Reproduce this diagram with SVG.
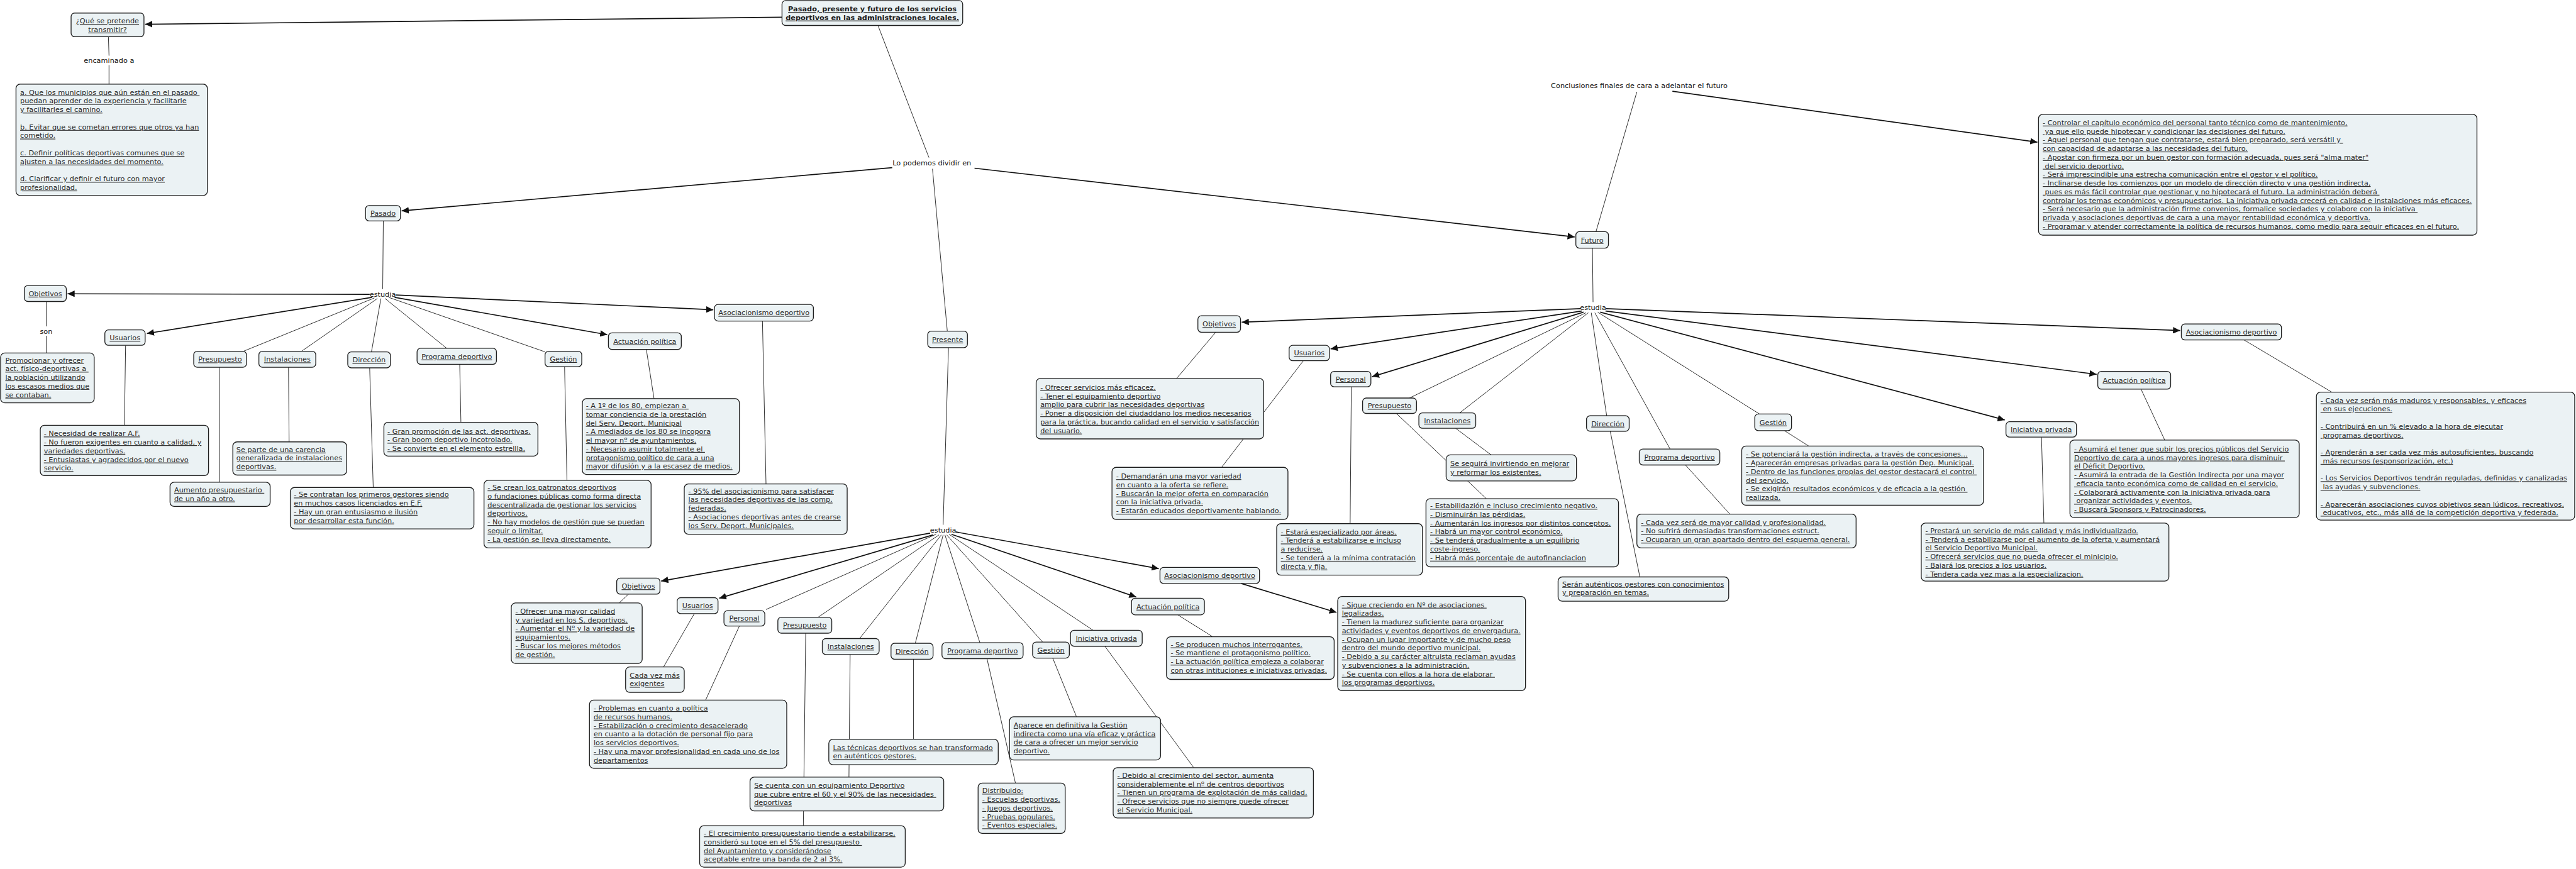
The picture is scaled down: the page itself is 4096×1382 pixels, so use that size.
<svg xmlns="http://www.w3.org/2000/svg" width="4096" height="1382" viewBox="0 0 4096 1382">
<style>
.bx{fill:#ebf2f4;stroke:#1e1e1e;stroke-width:1.4}
.t{font-family:"DejaVu Sans",Verdana,sans-serif;font-size:12px;fill:#2a2a2a;text-decoration:underline}
.m{text-anchor:middle}
.b{font-weight:bold;fill:#1a1a1a}
.l{font-family:"DejaVu Sans",Verdana,sans-serif;font-size:12px;fill:#111;text-anchor:middle}
.c{stroke:#222;stroke-width:1;fill:none}
.a{stroke:#111;stroke-width:1.8;fill:none;marker-end:url(#ah)}
</style>
<defs>
<marker id="ah" markerUnits="userSpaceOnUse" markerWidth="13" markerHeight="11" refX="12" refY="5.5" orient="auto"><path d="M0,0 L12,5.5 L0,11 z" fill="#111"/></marker>
</defs>
<rect width="4096" height="1382" fill="#fff"/>
<g transform="scale(0.942)">
<g id="connectors">
<line class="c" x1="183" y1="62" x2="184" y2="94"/>
<line class="c" x1="184" y1="110" x2="184" y2="142"/>
<line class="c" x1="1482" y1="43" x2="1568" y2="266"/>
<line class="c" x1="1574" y1="285" x2="1599" y2="559"/>
<line class="c" x1="2694" y1="391" x2="2763" y2="155"/>
<line class="c" x1="647" y1="373" x2="646" y2="488"/>
<line class="c" x1="78" y1="509" x2="78" y2="551"/>
<line class="c" x1="78" y1="567" x2="78" y2="596"/>
<line class="c" x1="212" y1="583" x2="210" y2="718"/>
<line class="c" x1="632" y1="503" x2="411" y2="593"/>
<line class="c" x1="370" y1="620" x2="371" y2="814"/>
<line class="c" x1="637" y1="504" x2="509" y2="593"/>
<line class="c" x1="487" y1="620" x2="488" y2="746"/>
<line class="c" x1="643" y1="504" x2="627" y2="594"/>
<line class="c" x1="624" y1="621" x2="630" y2="823"/>
<line class="c" x1="650" y1="504" x2="754" y2="588"/>
<line class="c" x1="776" y1="615" x2="778" y2="713"/>
<line class="c" x1="656" y1="502" x2="920" y2="594"/>
<line class="c" x1="953" y1="619" x2="957" y2="811"/>
<line class="c" x1="1091" y1="590" x2="1104" y2="673"/>
<line class="c" x1="1287" y1="542" x2="1293" y2="817"/>
<line class="c" x1="1601" y1="587" x2="1592" y2="886"/>
<line class="c" x1="1580" y1="902" x2="1293" y2="1029"/>
<line class="c" x1="1585" y1="903" x2="1381" y2="1042"/>
<line class="c" x1="1589" y1="903" x2="1451" y2="1078"/>
<line class="c" x1="1592" y1="903" x2="1545" y2="1086"/>
<line class="c" x1="1595" y1="903" x2="1654" y2="1085"/>
<line class="c" x1="1598" y1="903" x2="1760" y2="1084"/>
<line class="c" x1="1602" y1="902" x2="1845" y2="1064"/>
<line class="c" x1="1061" y1="1003" x2="1045" y2="1018"/>
<line class="c" x1="1172" y1="1036" x2="1120" y2="1126"/>
<line class="c" x1="1248" y1="1057" x2="1191" y2="1182"/>
<line class="c" x1="1360" y1="1069" x2="1356" y2="1394"/>
<line class="c" x1="1435" y1="1105" x2="1433" y2="1312"/>
<line class="c" x1="1542" y1="1113" x2="1542" y2="1248"/>
<line class="c" x1="1666" y1="1112" x2="1714" y2="1322"/>
<line class="c" x1="1777" y1="1111" x2="1817" y2="1210"/>
<line class="c" x1="1865" y1="1091" x2="2015" y2="1296"/>
<line class="c" x1="1988" y1="1038" x2="2047" y2="1075"/>
<line class="c" x1="2688" y1="419" x2="2689" y2="510"/>
<line class="c" x1="2677" y1="528" x2="2379" y2="672"/>
<line class="c" x1="2681" y1="528" x2="2464" y2="697"/>
<line class="c" x1="2686" y1="528" x2="2712" y2="702"/>
<line class="c" x1="2692" y1="528" x2="2819" y2="758"/>
<line class="c" x1="2697" y1="527" x2="2970" y2="699"/>
<line class="c" x1="2052" y1="561" x2="1986" y2="639"/>
<line class="c" x1="2200" y1="609" x2="2062" y2="789"/>
<line class="c" x1="2281" y1="653" x2="2279" y2="884"/>
<line class="c" x1="2357" y1="698" x2="2509" y2="842"/>
<line class="c" x1="2457" y1="723" x2="2517" y2="768"/>
<line class="c" x1="2718" y1="728" x2="2768" y2="974"/>
<line class="c" x1="2845" y1="785" x2="2920" y2="868"/>
<line class="c" x1="3012" y1="727" x2="3053" y2="753"/>
<line class="c" x1="3446" y1="738" x2="3450" y2="883"/>
<line class="c" x1="3614" y1="657" x2="3654" y2="743"/>
<line class="c" x1="3788" y1="574" x2="3936" y2="662"/>
<line class="a" x1="1320" y1="29" x2="245" y2="41"/>
<line class="a" x1="1506" y1="283" x2="678" y2="356"/>
<line class="a" x1="1645" y1="284" x2="2658" y2="400"/>
<line class="a" x1="2823" y1="154" x2="3439" y2="240"/>
<line class="a" x1="624" y1="497" x2="114" y2="496"/>
<line class="a" x1="628" y1="502" x2="248" y2="563"/>
<line class="a" x1="666" y1="502" x2="1025" y2="565"/>
<line class="a" x1="668" y1="498" x2="1204" y2="523"/>
<line class="a" x1="1570" y1="900" x2="1116" y2="981"/>
<line class="a" x1="1575" y1="903" x2="1214" y2="1010"/>
<line class="a" x1="1606" y1="902" x2="1918" y2="1008"/>
<line class="a" x1="1613" y1="898" x2="1956" y2="960"/>
<line class="a" x1="2095" y1="985" x2="2256" y2="1034"/>
<line class="a" x1="2668" y1="521" x2="2096" y2="544"/>
<line class="a" x1="2670" y1="525" x2="2246" y2="589"/>
<line class="a" x1="2673" y1="527" x2="2316" y2="636"/>
<line class="a" x1="2701" y1="527" x2="3384" y2="709"/>
<line class="a" x1="2710" y1="525" x2="3539" y2="632"/>
<line class="a" x1="2711" y1="521" x2="3680" y2="558"/>
</g>
<g id="labels">
<text class="l" x="184" y="106">encaminado a</text>
<text class="l" x="78" y="564">son</text>
<text class="l" x="1573" y="279">Lo podemos dividir en</text>
<text class="l" x="2767" y="149">Conclusiones finales de cara a adelantar el futuro</text>
<text class="l" x="646" y="501">estudia</text>
<text class="l" x="1592" y="899">estudia</text>
<text class="l" x="2689" y="523">estudia</text>
</g>
<g id="title"><rect class="bx" x="1320" y="1" width="305" height="42" rx="6"/><text class="t b m" x="1472.5" y="19.3">Pasado, presente y futuro de los servicios</text><text class="t b m" x="1472.5" y="33.6">deportivos en las administraciones locales.</text></g>
<g id="pregunta"><rect class="bx" x="120" y="22" width="123" height="40" rx="6"/><text class="t m" x="181.5" y="39.3">¿Qué se pretende</text><text class="t m" x="181.5" y="53.9">transmitir?</text></g>
<g id="objetivos-generales"><rect class="bx" x="27" y="142" width="323" height="188" rx="7"/><text class="t"><tspan x="34" y="160">a. Que los municipios que aún están en el pasado </tspan><tspan x="34" y="174.6">puedan aprender de la experiencia y facilitarle</tspan><tspan x="34" y="189.2">y facilitarles el camino.</tspan><tspan x="34" y="218.4">b. Evitar que se cometan errores que otros ya han</tspan><tspan x="34" y="233">cometido.</tspan><tspan x="34" y="262.2">c. Definir políticas deportivas comunes que se</tspan><tspan x="34" y="276.8">ajusten a las necesidades del momento.</tspan><tspan x="34" y="306">d. Clarificar y definir el futuro con mayor</tspan><tspan x="34" y="320.6">profesionalidad.</tspan></text></g>
<g id="pasado"><rect class="bx" x="617" y="347" width="59" height="26" rx="6"/><text class="t m" x="646.5" y="364.3">Pasado</text></g>
<g id="presente"><rect class="bx" x="1566" y="559" width="67" height="28" rx="6"/><text class="t m" x="1599.5" y="577.3">Presente</text></g>
<g id="futuro"><rect class="bx" x="2660" y="391" width="55" height="28" rx="6"/><text class="t m" x="2687.5" y="409.3">Futuro</text></g>
<g id="conclusiones-box"><rect class="bx" x="3441" y="193" width="740" height="204" rx="7"/><text class="t"><tspan x="3448" y="211">- Controlar el capítulo económico del personal tanto técnico como de mantenimiento,</tspan><tspan x="3448" y="225.6"> ya que ello puede hipotecar y condicionar las decisiones del futuro.</tspan><tspan x="3448" y="240.2">- Aquel personal que tengan que contratarse, estará bien preparado, será versátil y </tspan><tspan x="3448" y="254.8">con capacidad de adaptarse a las necesidades del futuro.</tspan><tspan x="3448" y="269.4">- Apostar con firmeza por un buen gestor con formación adecuada, pues será "alma mater"</tspan><tspan x="3448" y="284"> del servicio deportivo.</tspan><tspan x="3448" y="298.6">- Será imprescindible una estrecha comunicación entre el gestor y el político.</tspan><tspan x="3448" y="313.2">- Inclinarse desde los comienzos por un modelo de dirección directo y una gestión indirecta,</tspan><tspan x="3448" y="327.8"> pues es más fácil controlar que gestionar y no hipotecará el futuro. La administración deberá </tspan><tspan x="3448" y="342.4">controlar los temas económicos y presupuestarios. La iniciativa privada crecerá en calidad e instalaciones más eficaces.</tspan><tspan x="3448" y="357">- Será necesario que la administración firme convenios, formalice sociedades y colabore con la iniciativa </tspan><tspan x="3448" y="371.6">privada y asociaciones deportivas de cara a una mayor rentabilidad económica y deportiva.</tspan><tspan x="3448" y="386.2">- Programar y atender correctamente la política de recursos humanos, como medio para seguir eficaces en el futuro.</tspan></text></g>
<g id="pas-objetivos"><rect class="bx" x="41" y="482" width="71" height="27" rx="6"/><text class="t m" x="76.5" y="499.8">Objetivos</text></g>
<g id="pas-objetivos-txt"><rect class="bx" x="1" y="596" width="158" height="84" rx="7"/><text class="t"><tspan x="9" y="612">Promocionar y ofrecer</tspan><tspan x="9" y="626.6">act. físico-deportivas a </tspan><tspan x="9" y="641.2">la población utilizando</tspan><tspan x="9" y="655.8">los escasos medios que</tspan><tspan x="9" y="670.4">se contaban.</tspan></text></g>
<g id="pas-usuarios"><rect class="bx" x="177" y="557" width="68" height="26" rx="6"/><text class="t m" x="211" y="574.3">Usuarios</text></g>
<g id="pas-usuarios-txt"><rect class="bx" x="68" y="718" width="284" height="85" rx="7"/><text class="t"><tspan x="74" y="736">- Necesidad de realizar A.F.</tspan><tspan x="74" y="750.6">- No fueron exigentes en cuanto a calidad, y</tspan><tspan x="74" y="765.2">variedades deportivas.</tspan><tspan x="74" y="779.8">- Entusiastas y agradecidos por el nuevo</tspan><tspan x="74" y="794.4">servicio.</tspan></text></g>
<g id="pas-presupuesto"><rect class="bx" x="327" y="593" width="89" height="27" rx="6"/><text class="t m" x="371.5" y="610.8">Presupuesto</text></g>
<g id="pas-presupuesto-txt"><rect class="bx" x="287" y="814" width="169" height="41" rx="7"/><text class="t"><tspan x="294" y="831">Aumento presupuestario </tspan><tspan x="294" y="845.6">de un año a otro.</tspan></text></g>
<g id="pas-instalaciones"><rect class="bx" x="437" y="593" width="96" height="27" rx="6"/><text class="t m" x="485" y="610.8">Instalaciones</text></g>
<g id="pas-instalaciones-txt"><rect class="bx" x="393" y="746" width="192" height="56" rx="7"/><text class="t"><tspan x="399" y="763">Se parte de una carencia</tspan><tspan x="399" y="777.6">generalizada de instalaciones</tspan><tspan x="399" y="792.2">deportivas.</tspan></text></g>
<g id="pas-direccion"><rect class="bx" x="587" y="594" width="72" height="27" rx="6"/><text class="t m" x="623" y="611.8">Dirección</text></g>
<g id="pas-direccion-txt"><rect class="bx" x="490" y="823" width="310" height="70" rx="7"/><text class="t"><tspan x="496" y="839">- Se contratan los primeros gestores siendo</tspan><tspan x="496" y="853.6">en muchos casos licenciados en E.F.</tspan><tspan x="496" y="868.2">- Hay un gran entusiasmo e ilusión</tspan><tspan x="496" y="882.8">por desarrollar esta función.</tspan></text></g>
<g id="pas-programa"><rect class="bx" x="704" y="588" width="134" height="27" rx="6"/><text class="t m" x="771" y="605.8">Programa deportivo</text></g>
<g id="pas-programa-txt"><rect class="bx" x="648" y="713" width="260" height="57" rx="7"/><text class="t"><tspan x="654" y="732">- Gran promoción de las act. deportivas.</tspan><tspan x="654" y="746.6">- Gran boom deportivo incotrolado.</tspan><tspan x="654" y="761.2">- Se convierte en el elemento estrellla.</tspan></text></g>
<g id="pas-gestion"><rect class="bx" x="920" y="593" width="62" height="26" rx="6"/><text class="t m" x="951" y="610.3">Gestión</text></g>
<g id="pas-gestion-txt"><rect class="bx" x="817" y="811" width="282" height="114" rx="7"/><text class="t"><tspan x="823" y="827">- Se crean los patronatos deportivos</tspan><tspan x="823" y="841.6">o fundaciones públicas como forma directa</tspan><tspan x="823" y="856.2">descentralizada de gestionar los servicios</tspan><tspan x="823" y="870.8">deportivos.</tspan><tspan x="823" y="885.4">- No hay modelos de gestión que se puedan</tspan><tspan x="823" y="900">seguir o limitar.</tspan><tspan x="823" y="914.6">- La gestión se lleva directamente.</tspan></text></g>
<g id="pas-actuacion"><rect class="bx" x="1027" y="562" width="123" height="28" rx="6"/><text class="t m" x="1088.5" y="580.3">Actuación política</text></g>
<g id="pas-actuacion-txt"><rect class="bx" x="983" y="673" width="265" height="128" rx="7"/><text class="t"><tspan x="989" y="689">- A 1º de los 80, empiezan a </tspan><tspan x="989" y="703.6">tomar conciencia de la prestación</tspan><tspan x="989" y="718.2">del Serv. Deport. Municipal</tspan><tspan x="989" y="732.8">- A mediados de los 80 se incopora</tspan><tspan x="989" y="747.4">el mayor nº de ayuntamientos.</tspan><tspan x="989" y="762">- Necesario asumir totalmente el </tspan><tspan x="989" y="776.6">protagonismo político de cara a una</tspan><tspan x="989" y="791.2">mayor difusión y a la escasez de medios.</tspan></text></g>
<g id="pas-asociacionismo"><rect class="bx" x="1206" y="514" width="167" height="28" rx="6"/><text class="t m" x="1289.5" y="532.3">Asociacionismo deportivo</text></g>
<g id="pas-asociacionismo-txt"><rect class="bx" x="1155" y="817" width="275" height="85" rx="7"/><text class="t"><tspan x="1162" y="833">- 95% del asociacionismo para satisfacer</tspan><tspan x="1162" y="847.6">las necesidades deportivas de las comp.</tspan><tspan x="1162" y="862.2">federadas.</tspan><tspan x="1162" y="876.8">- Asociaciones deportivas antes de crearse</tspan><tspan x="1162" y="891.4">los Serv. Deport. Municipales.</tspan></text></g>
<g id="pre-objetivos"><rect class="bx" x="1041" y="976" width="73" height="27" rx="6"/><text class="t m" x="1077.5" y="993.8">Objetivos</text></g>
<g id="pre-objetivos-txt"><rect class="bx" x="863" y="1018" width="221" height="102" rx="7"/><text class="t"><tspan x="870" y="1036">- Ofrecer una mayor calidad</tspan><tspan x="870" y="1050.6">y variedad en los S. deportivos.</tspan><tspan x="870" y="1065.2">- Aumentar el Nº y la variedad de</tspan><tspan x="870" y="1079.8">equipamientos.</tspan><tspan x="870" y="1094.4">- Buscar los mejores métodos</tspan><tspan x="870" y="1109">de gestión.</tspan></text></g>
<g id="pre-usuarios"><rect class="bx" x="1143" y="1009" width="69" height="27" rx="6"/><text class="t m" x="1177.5" y="1026.8">Usuarios</text></g>
<g id="pre-usuarios-txt"><rect class="bx" x="1056" y="1126" width="99" height="43" rx="7"/><text class="t"><tspan x="1063" y="1144">Cada vez más</tspan><tspan x="1063" y="1158.6">exigentes</tspan></text></g>
<g id="pre-personal"><rect class="bx" x="1222" y="1031" width="69" height="26" rx="6"/><text class="t m" x="1256.5" y="1048.3">Personal</text></g>
<g id="pre-personal-txt"><rect class="bx" x="995" y="1182" width="333" height="115" rx="7"/><text class="t"><tspan x="1002" y="1199.6">- Problemas en cuanto a política</tspan><tspan x="1002" y="1214.2">de recursos humanos.</tspan><tspan x="1002" y="1228.8">- Estabilización o crecimiento desacelerado</tspan><tspan x="1002" y="1243.4">en cuanto a la dotación de personal fijo para</tspan><tspan x="1002" y="1258">los servicios deportivos.</tspan><tspan x="1002" y="1272.6">- Hay una mayor profesionalidad en cada uno de los</tspan><tspan x="1002" y="1287.2">departamentos</tspan></text></g>
<g id="pre-presupuesto"><rect class="bx" x="1313" y="1042" width="91" height="27" rx="6"/><text class="t m" x="1358.5" y="1059.8">Presupuesto</text></g>
<g id="pre-equipamiento-txt"><rect class="bx" x="1266" y="1312" width="327" height="57" rx="7"/><text class="t"><tspan x="1273" y="1330">Se cuenta con un equipamiento Deportivo</tspan><tspan x="1273" y="1344.6">que cubre entre el 60 y el 90% de las necesidades </tspan><tspan x="1273" y="1359.2">deportivas</tspan></text></g>
<g id="pre-presupuesto-txt"><rect class="bx" x="1181" y="1394" width="347" height="70" rx="7"/><text class="t"><tspan x="1188" y="1411">- El crecimiento presupuestario tiende a estabilizarse,</tspan><tspan x="1188" y="1425.6">consideró su tope en el 5% del presupuesto </tspan><tspan x="1188" y="1440.2">del Ayuntamiento y considerándose</tspan><tspan x="1188" y="1454.8">aceptable entre una banda de 2 al 3%.</tspan></text></g>
<g id="pre-instalaciones"><rect class="bx" x="1388" y="1078" width="96" height="27" rx="6"/><text class="t m" x="1436" y="1095.8">Instalaciones</text></g>
<g id="pre-direccion"><rect class="bx" x="1504" y="1086" width="71" height="27" rx="6"/><text class="t m" x="1539.5" y="1103.8">Dirección</text></g>
<g id="pre-direccion-txt"><rect class="bx" x="1399" y="1248" width="286" height="43" rx="7"/><text class="t"><tspan x="1406" y="1266">Las técnicas deportivos se han transformado</tspan><tspan x="1406" y="1280.6">en auténticos gestores.</tspan></text></g>
<g id="pre-programa"><rect class="bx" x="1590" y="1085" width="137" height="27" rx="6"/><text class="t m" x="1658.5" y="1102.8">Programa deportivo</text></g>
<g id="pre-programa-txt"><rect class="bx" x="1651" y="1322" width="147" height="85" rx="7"/><text class="t"><tspan x="1658" y="1339">Distribuido:</tspan><tspan x="1658" y="1353.6">- Escuelas deportivas.</tspan><tspan x="1658" y="1368.2">- Juegos deportivos.</tspan><tspan x="1658" y="1382.8">- Pruebas populares.</tspan><tspan x="1658" y="1397.4">- Eventos especiales.</tspan></text></g>
<g id="pre-gestion"><rect class="bx" x="1743" y="1084" width="62" height="27" rx="6"/><text class="t m" x="1774" y="1101.8">Gestión</text></g>
<g id="pre-gestion-txt"><rect class="bx" x="1704" y="1210" width="255" height="73" rx="7"/><text class="t"><tspan x="1711" y="1228">Aparece en definitiva la Gestión</tspan><tspan x="1711" y="1242.6">indirecta como una vía eficaz y práctica</tspan><tspan x="1711" y="1257.2">de cara a ofrecer un mejor servicio</tspan><tspan x="1711" y="1271.8">deportivo.</tspan></text></g>
<g id="pre-iniciativa"><rect class="bx" x="1807" y="1064" width="121" height="27" rx="6"/><text class="t m" x="1867.5" y="1081.8">Iniciativa privada</text></g>
<g id="pre-iniciativa-txt"><rect class="bx" x="1879" y="1296" width="338" height="85" rx="7"/><text class="t"><tspan x="1886" y="1313">- Debido al crecimiento del sector, aumenta</tspan><tspan x="1886" y="1327.6">considerablemente el nº de centros deportivos</tspan><tspan x="1886" y="1342.2">- Tienen un programa de explotación de más calidad.</tspan><tspan x="1886" y="1356.8">- Ofrece servicios que no siempre puede ofrecer</tspan><tspan x="1886" y="1371.4">el Servicio Municipal.</tspan></text></g>
<g id="pre-actuacion"><rect class="bx" x="1910" y="1010" width="123" height="28" rx="6"/><text class="t m" x="1971.5" y="1028.3">Actuación política</text></g>
<g id="pre-actuacion-txt"><rect class="bx" x="1969" y="1075" width="283" height="72" rx="7"/><text class="t"><tspan x="1976" y="1092">- Se producen muchos interrogantes.</tspan><tspan x="1976" y="1106.6">- Se mantiene el protagonismo político.</tspan><tspan x="1976" y="1121.2">- La actuación política empieza a colaborar</tspan><tspan x="1976" y="1135.8">con otras intituciones e iniciativas privadas.</tspan></text></g>
<g id="pre-asociacionismo"><rect class="bx" x="1958" y="958" width="168" height="27" rx="6"/><text class="t m" x="2042" y="975.8">Asociacionismo deportivo</text></g>
<g id="pre-asociacionismo-txt"><rect class="bx" x="2258" y="1007" width="317" height="159" rx="7"/><text class="t"><tspan x="2265" y="1025">- Sigue creciendo en Nº de asociaciones </tspan><tspan x="2265" y="1039.6">legalizadas.</tspan><tspan x="2265" y="1054.2">- Tienen la madurez suficiente para organizar</tspan><tspan x="2265" y="1068.8">actividades y eventos deportivos de envergadura.</tspan><tspan x="2265" y="1083.4">- Ocupan un lugar importante y de mucho peso</tspan><tspan x="2265" y="1098">dentro del mundo deportivo municipal.</tspan><tspan x="2265" y="1112.6">- Debido a su carácter altruista reclaman ayudas</tspan><tspan x="2265" y="1127.2">y subvenciones a la administración.</tspan><tspan x="2265" y="1141.8">- Se cuenta con ellos a la hora de elaborar </tspan><tspan x="2265" y="1156.4">los programas deportivos.</tspan></text></g>
<g id="fut-objetivos"><rect class="bx" x="2022" y="533" width="72" height="28" rx="6"/><text class="t m" x="2058" y="551.3">Objetivos</text></g>
<g id="fut-objetivos-txt"><rect class="bx" x="1749" y="639" width="384" height="102" rx="7"/><text class="t"><tspan x="1756" y="658">- Ofrecer servicios más eficacez.</tspan><tspan x="1756" y="672.6">- Tener el equipamiento deportivo</tspan><tspan x="1756" y="687.2">amplio para cubrir las necesidades deportivas</tspan><tspan x="1756" y="701.8">- Poner a disposición del ciudaddano los medios necesarios</tspan><tspan x="1756" y="716.4">para la práctica, bucando calidad en el servicio y satisfacción</tspan><tspan x="1756" y="731">del usuario.</tspan></text></g>
<g id="fut-usuarios"><rect class="bx" x="2176" y="583" width="68" height="26" rx="6"/><text class="t m" x="2210" y="600.3">Usuarios</text></g>
<g id="fut-usuarios-txt"><rect class="bx" x="1877" y="789" width="297" height="88" rx="7"/><text class="t"><tspan x="1884" y="808">- Demandarán una mayor variedad</tspan><tspan x="1884" y="822.6">en cuanto a la oferta se refiere.</tspan><tspan x="1884" y="837.2">- Buscarán la mejor oferta en comparación</tspan><tspan x="1884" y="851.8">con la iniciativa privada.</tspan><tspan x="1884" y="866.4">- Estarán educados deportivamente hablando.</tspan></text></g>
<g id="fut-personal"><rect class="bx" x="2246" y="627" width="68" height="26" rx="6"/><text class="t m" x="2280" y="644.3">Personal</text></g>
<g id="fut-personal-txt"><rect class="bx" x="2155" y="884" width="246" height="87" rx="7"/><text class="t"><tspan x="2162" y="902">- Estará especializado por áreas.</tspan><tspan x="2162" y="916.6">- Tenderá a estabilizarse e incluso</tspan><tspan x="2162" y="931.2">a reducirse.</tspan><tspan x="2162" y="945.8">- Se tenderá a la mínima contratación</tspan><tspan x="2162" y="960.4">directa y fija.</tspan></text></g>
<g id="fut-presupuesto"><rect class="bx" x="2300" y="672" width="91" height="26" rx="6"/><text class="t m" x="2345.5" y="689.3">Presupuesto</text></g>
<g id="fut-instalaciones"><rect class="bx" x="2395" y="697" width="96" height="26" rx="6"/><text class="t m" x="2443" y="714.3">Instalaciones</text></g>
<g id="fut-instalaciones-txt"><rect class="bx" x="2441" y="768" width="220" height="44" rx="7"/><text class="t"><tspan x="2448" y="787">Se seguirá invirtiendo en mejorar</tspan><tspan x="2448" y="801.6">y reformar los existentes.</tspan></text></g>
<g id="fut-presupuesto-txt"><rect class="bx" x="2407" y="842" width="325" height="115" rx="7"/><text class="t"><tspan x="2414" y="858">- Estabilidazión e incluso crecimiento negativo.</tspan><tspan x="2414" y="872.6">- Disminuirán las pérdidas.</tspan><tspan x="2414" y="887.2">- Aumentarán los ingresos por distintos conceptos.</tspan><tspan x="2414" y="901.8">- Habrá un mayor control económico.</tspan><tspan x="2414" y="916.4">- Se tenderá gradualmente a un equilibrio</tspan><tspan x="2414" y="931">coste-ingreso.</tspan><tspan x="2414" y="945.6">- Habrá más porcentaje de autofinanciacion</tspan></text></g>
<g id="fut-direccion"><rect class="bx" x="2678" y="702" width="72" height="26" rx="6"/><text class="t m" x="2714" y="719.3">Dirección</text></g>
<g id="fut-direccion-txt"><rect class="bx" x="2630" y="974" width="288" height="41" rx="7"/><text class="t"><tspan x="2637" y="990">Serán auténticos gestores con conocimientos</tspan><tspan x="2637" y="1004.6">y preparación en temas.</tspan></text></g>
<g id="fut-programa"><rect class="bx" x="2767" y="758" width="136" height="27" rx="6"/><text class="t m" x="2835" y="775.8">Programa deportivo</text></g>
<g id="fut-programa-txt"><rect class="bx" x="2763" y="868" width="370" height="57" rx="7"/><text class="t"><tspan x="2770" y="886">- Cada vez será de mayor calidad y profesionalidad.</tspan><tspan x="2770" y="900.6">- No sufrirá demasiadas transformaciones estruct.</tspan><tspan x="2770" y="915.2">- Ocuparan un gran apartado dentro del esquema general.</tspan></text></g>
<g id="fut-gestion"><rect class="bx" x="2962" y="699" width="62" height="28" rx="6"/><text class="t m" x="2993" y="717.3">Gestión</text></g>
<g id="fut-gestion-txt"><rect class="bx" x="2940" y="753" width="408" height="100" rx="7"/><text class="t"><tspan x="2947" y="771">- Se potenciará la gestión indirecta, a través de concesiones...</tspan><tspan x="2947" y="785.6">- Aparecerán empresas privadas para la gestión Dep. Municipal.</tspan><tspan x="2947" y="800.2">- Dentro de las funciones propias del gestor destacará el control </tspan><tspan x="2947" y="814.8">del servicio.</tspan><tspan x="2947" y="829.4">- Se exigirán resultados económicos y de eficacia a la gestión </tspan><tspan x="2947" y="844">realizada.</tspan></text></g>
<g id="fut-iniciativa"><rect class="bx" x="3386" y="712" width="119" height="26" rx="6"/><text class="t m" x="3445.5" y="729.3">Iniciativa privada</text></g>
<g id="fut-iniciativa-txt"><rect class="bx" x="3243" y="883" width="418" height="98" rx="7"/><text class="t"><tspan x="3250" y="900">- Prestará un servicio de más calidad y más individualizado.</tspan><tspan x="3250" y="914.6">- Tenderá a estabilizarse por el aumento de la oferta y aumentará</tspan><tspan x="3250" y="929.2">el Servicio Deportivo Municipal.</tspan><tspan x="3250" y="943.8">- Ofrecerá servicios que no pueda ofrecer el minicipio.</tspan><tspan x="3250" y="958.4">- Bajará los precios a los usuarios.</tspan><tspan x="3250" y="973">- Tendera cada vez mas a la especializacion.</tspan></text></g>
<g id="fut-actuacion"><rect class="bx" x="3541" y="627" width="123" height="30" rx="6"/><text class="t m" x="3602.5" y="646.3">Actuación política</text></g>
<g id="fut-actuacion-txt"><rect class="bx" x="3494" y="743" width="387" height="131" rx="7"/><text class="t"><tspan x="3501" y="762">- Asumirá el tener que subir los precios públicos del Servicio</tspan><tspan x="3501" y="776.6">Deportivo de cara a unos mayores ingresos para disminuir </tspan><tspan x="3501" y="791.2">el Déficit Deportivo.</tspan><tspan x="3501" y="805.8">- Asumirá la entrada de la Gestión Indirecta por una mayor</tspan><tspan x="3501" y="820.4"> eficacia tanto económica como de calidad en el servicio.</tspan><tspan x="3501" y="835">- Colaborará activamente con la iniciativa privada para</tspan><tspan x="3501" y="849.6"> organizar actividades y eventos.</tspan><tspan x="3501" y="864.2">- Buscará Sponsors y Patrocinadores.</tspan></text></g>
<g id="fut-asociacionismo"><rect class="bx" x="3682" y="547" width="169" height="27" rx="6"/><text class="t m" x="3766.5" y="564.8">Asociacionismo deportivo</text></g>
<g id="fut-asociacionismo-txt"><rect class="bx" x="3910" y="662" width="436" height="216" rx="7"/><text class="t"><tspan x="3917" y="680">- Cada vez serán más maduros y responsables, y eficaces</tspan><tspan x="3917" y="694.6"> en sus ejecuciones.</tspan><tspan x="3917" y="723.8">- Contribuirá en un % elevado a la hora de ejecutar</tspan><tspan x="3917" y="738.4"> programas deportivos.</tspan><tspan x="3917" y="767.6">- Aprenderán a ser cada vez más autosuficientes, buscando</tspan><tspan x="3917" y="782.2"> más recursos (esponsorización, etc.)</tspan><tspan x="3917" y="811.4">- Los Servicios Deportivos tendrán reguladas, definidas y canalizadas</tspan><tspan x="3917" y="826"> las ayudas y subvenciones.</tspan><tspan x="3917" y="855.2">- Aparecerán asociaciones cuyos objetivos sean lúdicos, recreativos,</tspan><tspan x="3917" y="869.8"> educativos, etc., más allá de la competición deportiva y federada.</tspan></text></g>
</g>
</svg>
